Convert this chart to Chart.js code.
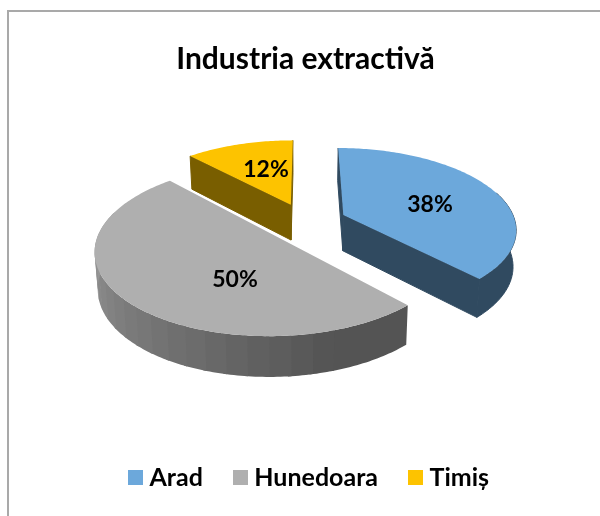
<!DOCTYPE html>
<html><head><meta charset="utf-8">
<script src="https://cdn.jsdelivr.net/npm/chart.js@4"></script>
<style>
html,body{margin:0;padding:0;background:#fff;width:600px;height:516px;overflow:hidden}
#frame{position:absolute;left:7px;top:10px;width:600px;height:520px;border-left:2px solid #a9a9a9;border-top:2px solid #a9a9a9;box-sizing:border-box}
canvas{position:absolute;left:0;top:0}
</style></head><body>
<div id="frame"></div>
<div style="position:absolute;left:0;top:0;width:600px;height:516px"><canvas id="c" width="600" height="516"></canvas></div>
<script>
const titleText = 'Industria extractivă';
const categories = ['Arad', 'Hunedoara', 'Timiș'];
const shares = [38, 50, 12];
const topColors = ['#6ca8db', '#afafaf', '#fdc300'];
const labelPercent = ['38%', '50%', '12%'];

// camera that tilts the pie plane (perspective, y squashed)
const view = {x0: 305.5, y0: 222, fx: 172, fy: 79.8, k: 0.16, depth: 36, shrink: 0.985, explode: 0.24};
const labelSpots = [[430, 205], [235, 280], [266, 170]];
const drawOrder = [2, 0, 1];
const sideShade = [0.44, null, 0.48];

function hexMix(hex, f) {
  const n = parseInt(hex.slice(1), 16);
  const c = [n >> 16 & 255, n >> 8 & 255, n & 255].map(v => Math.round(v * f));
  return `rgb(${c[0]},${c[1]},${c[2]})`;
}
function project(u, v, lower) {
  const w = 1 - view.k * v;
  let X = view.x0 + view.fx * u / w, Y = view.y0 + view.fy * v / w;
  if (lower) { X = view.x0 + (X - view.x0) * view.shrink; Y += view.depth / Math.pow(w, 0.6); }
  return [X, Y];
}
function railShade(t) { // rim band shade by canvas angle
  const deg = t * 180 / Math.PI;
  const band = Math.floor(deg / 6) * 6;
  return 0.48 + 0.39 * Math.max(0, Math.min(1, (band - 70) / 110));
}
function poly(ctx, pts, color, stroke) {
  ctx.beginPath();
  pts.forEach((p, i) => i ? ctx.lineTo(p[0], p[1]) : ctx.moveTo(p[0], p[1]));
  ctx.closePath();
  ctx.fillStyle = color; ctx.fill();
  if (stroke) { ctx.strokeStyle = color; ctx.lineWidth = 1; ctx.lineJoin = 'round'; ctx.stroke(); }
}
const pie3d = {
  id: 'pie3d',
  afterLayout(chart) { chart.legend.left += 6; chart.legend.right += 6; },
  beforeDatasetsDraw(chart) {
    const ctx = chart.ctx, arcs = chart.getDatasetMeta(0).data;
    drawOrder.forEach(i => {
      const a = arcs[i], s = a.startAngle, e = a.endAngle, m = (s + e) / 2;
      const ox = view.explode * Math.cos(m), oy = view.explode * Math.sin(m);
      const rim = [], steps = Math.ceil((e - s) * 180 / Math.PI);
      for (let j = 0; j <= steps; j++) { const t = s + (e - s) * j / steps; rim.push([t, ox + Math.cos(t), oy + Math.sin(t)]); }
      const apexT = project(ox, oy, false), apexB = project(ox, oy, true);
      const flat = sideShade[i] !== null;
      if (flat) {
        const side = hexMix(topColors[i], sideShade[i]);
        if (Math.sin(s - Math.PI / 2) > -0.01) {
          const r = rim[0];
          poly(ctx, [apexT, project(r[1], r[2], false), project(r[1], r[2], true), apexB], side, true);
        }
        if (Math.sin(e + Math.PI / 2) > -0.01) {
          const r = rim[rim.length - 1];
          poly(ctx, [apexT, project(r[1], r[2], false), project(r[1], r[2], true), apexB], side, true);
        }
      }
      const front = rim.filter(r => Math.sin(r[0]) > -0.3);
      let j = 0;
      while (j < front.length - 1) {
        const shade = flat ? sideShade[i] : railShade((front[j][0] + front[j + 1][0]) / 2);
        let k = j;
        while (k < front.length - 1 && (flat || railShade((front[k][0] + front[k + 1][0]) / 2) === shade)) k++;
        const part = front.slice(j, k + 2);
        poly(ctx, part.map(r => project(r[1], r[2], false)).concat(part.slice().reverse().map(r => project(r[1], r[2], true))), hexMix(topColors[i], shade), flat);
        j = k;
      }
      poly(ctx, [apexT].concat(rim.map(r => project(r[1], r[2], false))), topColors[i], false);
    });
    ctx.save();
    ctx.font = 'bold 23px Lato'; ctx.fillStyle = '#000'; ctx.textAlign = 'center'; ctx.textBaseline = 'middle';
    labelPercent.forEach((t, i) => ctx.fillText(t, labelSpots[i][0], labelSpots[i][1]));
    ctx.restore();
    return false;
  }
};
function swatch(color) {
  const s = document.createElement('canvas'); s.width = 15; s.height = 15;
  const g = s.getContext('2d'); g.fillStyle = color; g.fillRect(0, 0, 15, 15);
  return s;
}
new Chart(document.getElementById('c'), {
  type: 'pie',
  data: {labels: categories, datasets: [{data: shares, backgroundColor: topColors, borderWidth: 0}]},
  plugins: [pie3d],
  options: {
    responsive: false, animation: false,
    layout: {padding: {left: 11, right: 0, top: 0, bottom: 16}},
    plugins: {
      tooltip: {enabled: false},
      title: {display: true, text: titleText, color: '#000', font: {family: 'Lato', weight: 'bold', size: 30}, padding: {top: 41, bottom: 20}},
      legend: {
        position: 'bottom',
        labels: {
          color: '#000', font: {family: 'Lato', weight: 'bold', size: 25}, padding: 36,
          usePointStyle: true, pointStyleWidth: 3, boxHeight: 15,
          generateLabels: c => categories.map((n, i) => ({text: n, fillStyle: topColors[i], strokeStyle: topColors[i], lineWidth: 0, pointStyle: swatch(topColors[i]), index: i, hidden: false}))
        }
      }
    }
  }
});
</script>
</body></html>
